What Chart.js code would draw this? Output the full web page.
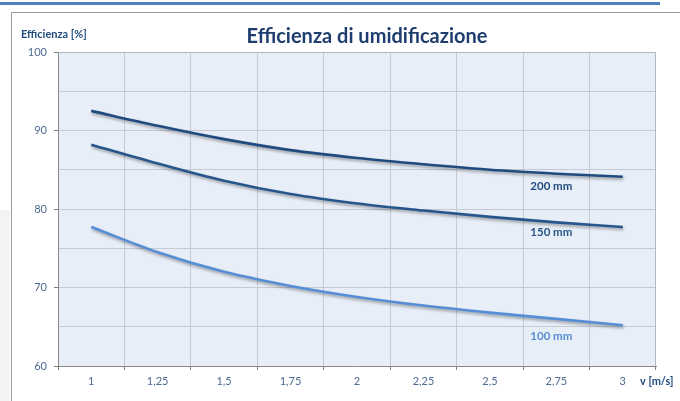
<!DOCTYPE html>
<html>
<head>
<meta charset="utf-8">
<script src="https://cdn.jsdelivr.net/npm/chart.js@4.4.1/dist/chart.umd.min.js"></script>
<style>
  html, body { margin: 0; padding: 0; background: #fff; }
  #wrap { width: 680px; height: 401px; position: relative; }
</style>
</head>
<body>
<div id="wrap"><canvas id="chart" width="680" height="401"></canvas></div>
<script>
// ============================================
// DATA
// ============================================
const velocities = ['1', '1,25', '1,5', '1,75', '2', '2,25', '2,5', '2,75', '3'];
const eff200 = [92.5, 90.6, 88.9, 87.5, 86.5, 85.7, 85.0, 84.5, 84.1];
const eff150 = [88.2, 85.8, 83.6, 81.9, 80.7, 79.8, 79.0, 78.3, 77.7];
const eff100 = [77.7, 74.5, 72.0, 70.2, 68.8, 67.7, 66.8, 66.0, 65.2];
const seriesNames = ['200 mm', '150 mm', '100 mm'];
const yTicks = [60, 70, 80, 90, 100];

const TITLE = 'Efficienza di umidificazione';
const Y_TITLE = 'Efficienza [%]';
const X_TITLE = 'v [m/s]';

const FONT = 'Lato, "Open Sans", sans-serif';
const NAVY = '#1f4b7e';
const MID = '#27568c';
const LIGHT = '#558ed5';
const TICK_COLOR = '#4d6a92';

// ============================================
// PLUGINS
// ============================================
// page decoration + plot area fill
const backdrop = {
    id: 'backdrop',
    beforeDraw(chart) {
        const c = chart.ctx;
        const a = chart.chartArea;
        c.save();
        c.fillStyle = '#ffffff';
        c.fillRect(0, 0, chart.width, chart.height);
        // light grey strip on the left (slide background)
        c.fillStyle = '#f3f3f3';
        c.fillRect(0, 210, 10, chart.height - 210);
        // blue rule at the top of the slide
        c.fillStyle = '#4f81bd';
        c.fillRect(0, 2, 660, 3);
        // chart box border
        c.strokeStyle = '#9a9a9a';
        c.lineWidth = 1;
        c.beginPath();
        c.moveTo(11.5, chart.height);
        c.lineTo(11.5, 12.5);
        c.lineTo(chart.width, 12.5);
        c.stroke();
        // plot area
        c.fillStyle = '#e8eef7';
        c.fillRect(a.left, a.top, a.right - a.left, a.bottom - a.top);
        c.restore();
    }
};

// soft shadow under the lines
const lineShadow = {
    id: 'lineShadow',
    beforeDatasetsDraw(chart) {
        const c = chart.ctx;
        c.save();
        c.shadowColor = 'rgba(0,0,0,0.35)';
        c.shadowBlur = 3;
        c.shadowOffsetX = 1;
        c.shadowOffsetY = 2;
    },
    afterDatasetsDraw(chart) {
        chart.ctx.restore();
    }
};

// plot frame, title, axis titles and series labels
const texts = {
    id: 'texts',
    afterDraw(chart) {
        const c = chart.ctx;
        const a = chart.chartArea;
        const x = chart.scales.x;
        const y = chart.scales.y;
        c.save();

        // top and right edges of the plot area
        c.strokeStyle = '#b4b8c0';
        c.lineWidth = 1;
        c.beginPath();
        c.moveTo(a.left, a.top + 0.5);
        c.lineTo(a.right - 0.5, a.top + 0.5);
        c.lineTo(a.right - 0.5, a.bottom);
        c.stroke();

        c.textBaseline = 'middle';
        c.fillStyle = '#1f3d6e';
        c.font = 'bold 20px ' + FONT;
        c.textAlign = 'center';
        c.fillText(TITLE, 367, 37);

        c.fillStyle = NAVY;
        c.font = 'bold 11px ' + FONT;
        c.textAlign = 'left';
        c.fillText(Y_TITLE, 21, 34);

        c.font = 'bold 11px ' + FONT;
        c.fillText(X_TITLE, 640, 381);

        // series labels under the curves, at the 2,75 category
        const idx = 7;
        const offsets = [13, 10, 17];
        c.font = 'bold 11.5px ' + FONT;
        c.textAlign = 'center';
        chart.data.datasets.forEach((ds, i) => {
            c.fillStyle = ds.borderColor;
            const px = x.getPixelForValue(idx) - 5;
            const py = y.getPixelForValue(ds.data[idx]) + offsets[i];
            c.fillText(seriesNames[i], px, py);
        });
        c.restore();
    }
};

// ============================================
// CHART
// ============================================
const ctx = document.getElementById('chart');
const chart = new Chart(ctx.getContext('2d'), {
    type: 'line',
    data: {
        labels: velocities,
        datasets: [
            { label: seriesNames[0], data: eff200, borderColor: NAVY },
            { label: seriesNames[1], data: eff150, borderColor: MID },
            { label: seriesNames[2], data: eff100, borderColor: LIGHT }
        ].map(d => Object.assign(d, {
            borderWidth: 2.6,
            pointRadius: 0,
            fill: false,
            cubicInterpolationMode: 'monotone'
        }))
    },
    options: {
        responsive: false,
        animation: false,
        layout: { padding: { left: 0, top: 52, right: 24, bottom: 0 } },
        plugins: {
            legend: { display: false },
            tooltip: { enabled: false }
        },
        scales: {
            x: {
                type: 'category',
                offset: true,
                afterFit(scale) { scale.height = 35; },
                grid: {
                    offset: true,
                    color: '#c6cad2',
                    tickColor: '#7f7f7f',
                    tickLength: 4
                },
                border: { color: '#8a8a8a', width: 1 },
                ticks: {
                    color: TICK_COLOR,
                    font: { family: FONT, size: 11 },
                    padding: 5,
                    maxRotation: 0,
                    autoSkip: false
                }
            },
            y: {
                min: 60,
                max: 100,
                afterFit(scale) { scale.width = 58; },
                grid: {
                    color: '#c6cad2',
                    tickColor: c2 => yTicks.includes(c2.tick.value) ? '#7f7f7f' : 'rgba(0,0,0,0)',
                    tickLength: 4
                },
                border: { color: '#8a8a8a', width: 1 },
                ticks: {
                    stepSize: 5,
                    color: TICK_COLOR,
                    font: { family: FONT, size: 11 },
                    padding: 7,
                    callback: v => yTicks.includes(v) ? String(v) : ''
                }
            }
        }
    },
    plugins: [backdrop, lineShadow, texts]
});
</script>
</body>
</html>
